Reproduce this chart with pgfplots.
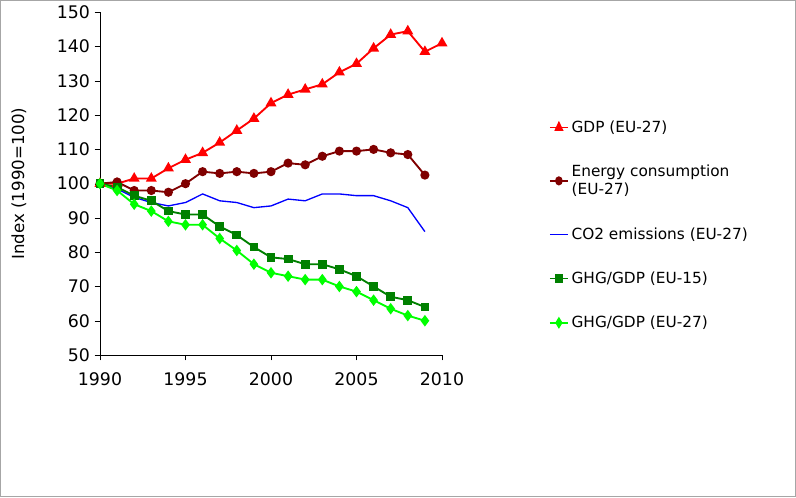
\documentclass[border=0pt]{standalone}
\usepackage{pgfplots}
\pgfplotsset{compat=1.18}
\usepackage{fontspec}
\setmainfont{DejaVu Sans}
\begin{document}
\begin{tikzpicture}
\draw[gray!70, line width=0.8pt] (0.4pt,0.4pt) rectangle (596.6pt,372.35pt);
\begin{axis}[
  at={(75pt,106.5pt)}, anchor=south west, scale only axis,
  width=256.5pt, height=257pt,
  xmin=1990, xmax=2010, ymin=50, ymax=150,
  xtick={1990,1995,...,2010}, ytick={50,60,...,150},
  axis lines*=left, tick align=outside, tick style={black},
  major tick length=4pt,
  /pgf/number format/1000 sep={},
  /pgf/number format/assume math mode=true,
  tick label style={font=\fontsize{13}{15}\selectfont},
  xticklabel style={yshift=-6pt},
  font=\fontsize{11.5}{13.5}\selectfont,
  ylabel={Index (1990=100)}, ylabel style={font=\fontsize{12.5}{15}\selectfont, yshift=16pt},
  clip=false,
  legend style={draw=none, at={(1.30,0.70)}, anchor=north west, row sep=19pt, font=\fontsize{11.5}{13.5}\selectfont, cells={align=left}},
  legend image post style={xscale=0.8},
  legend cell align=left,
  every axis plot/.append style={line width=1.4pt},
]
\addplot[red, mark=triangle*, mark size=3.4pt] coordinates {(1990,100)(1991,100)(1992,101.5)(1993,101.5)(1994,104.5)(1995,107)(1996,109)(1997,112)(1998,115.5)(1999,119)(2000,123.5)(2001,126)(2002,127.5)(2003,129)(2004,132.5)(2005,135)(2006,139.5)(2007,143.5)(2008,144.5)(2009,138.5)(2010,141)};
\addlegendentry{GDP (EU-27)}
\addplot[color={rgb,255:red,128;green,0;blue,0}, mark=*, mark size=2.7pt] coordinates {(1990,100)(1991,100.5)(1992,98)(1993,98)(1994,97.5)(1995,100)(1996,103.5)(1997,103)(1998,103.5)(1999,103)(2000,103.5)(2001,106)(2002,105.5)(2003,108)(2004,109.5)(2005,109.5)(2006,110)(2007,109)(2008,108.5)(2009,102.5)};
\addlegendentry{Energy consumption\\(EU-27)}
\addplot[blue, line width=1pt] coordinates {(1990,100)(1991,98.5)(1992,96)(1993,94.5)(1994,93.5)(1995,94.5)(1996,97)(1997,95)(1998,94.5)(1999,93)(2000,93.5)(2001,95.5)(2002,95)(2003,97)(2004,97)(2005,96.5)(2006,96.5)(2007,95)(2008,93)(2009,86)};
\addlegendentry{CO2 emissions (EU-27)}
\addplot[color={rgb,255:red,0;green,128;blue,0}, mark=square*, mark size=2.6pt] coordinates {(1990,100)(1991,99)(1992,96.5)(1993,95)(1994,92)(1995,91)(1996,91)(1997,87.5)(1998,85)(1999,81.5)(2000,78.5)(2001,78)(2002,76.5)(2003,76.5)(2004,75)(2005,73)(2006,70)(2007,67)(2008,66)(2009,64)};
\addlegendentry{GHG/GDP (EU-15)}
\addplot[color={rgb,255:red,0;green,255;blue,0}, mark=diamond*, mark size=3.2pt] coordinates {(1990,100)(1991,98)(1992,94)(1993,92)(1994,89)(1995,88)(1996,88)(1997,84)(1998,80.5)(1999,76.5)(2000,74)(2001,73)(2002,72)(2003,72)(2004,70)(2005,68.5)(2006,66)(2007,63.5)(2008,61.5)(2009,60)};
\addlegendentry{GHG/GDP (EU-27)}
\end{axis}
\end{tikzpicture}
\end{document}
